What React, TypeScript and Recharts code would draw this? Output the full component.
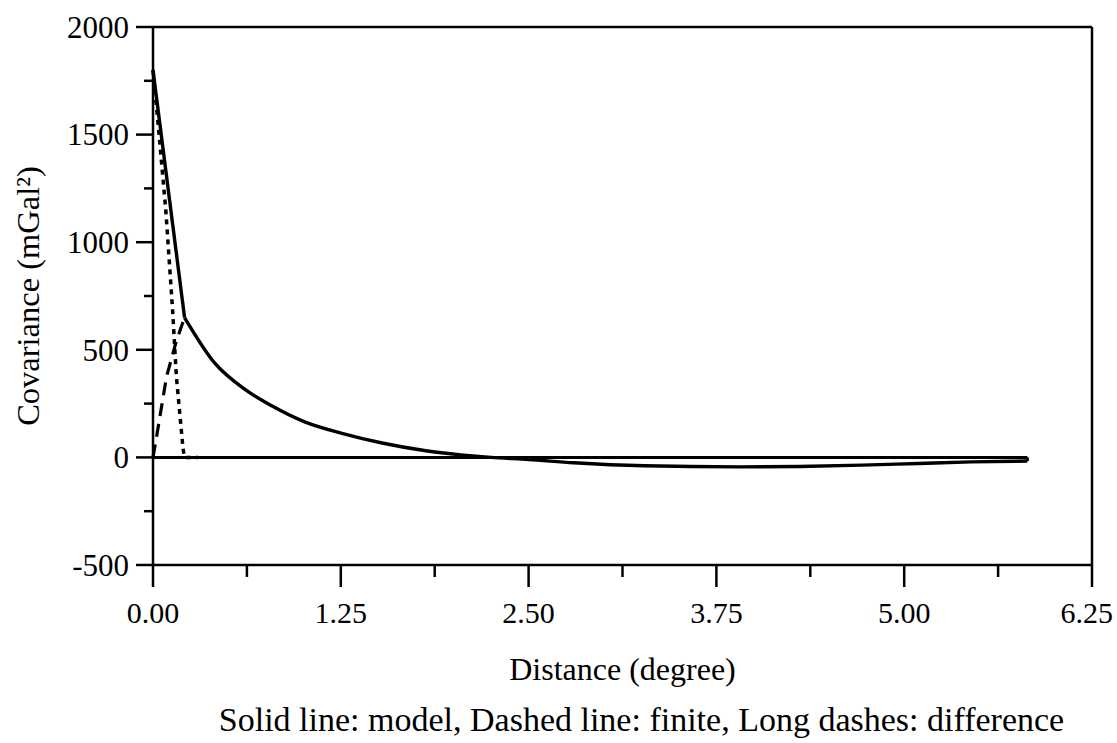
import { LineChart, Line, XAxis, YAxis, ReferenceLine, Label } from "recharts";

// distance in degrees, covariance in mGal^2
// model: straight drop near the origin, then a smooth tail
const MODEL_HEAD_X = [0, 0.21];
const MODEL_HEAD_Y = [1800, 650];
const MODEL_TAIL_X = [0.21, 0.41, 0.612, 0.79, 1.014, 1.258, 1.525, 1.816, 2.05, 2.25, 2.5, 2.8, 3.27, 3.9, 4.3, 4.72, 5.1, 5.45, 5.82];
const MODEL_TAIL_Y = [650, 439, 316, 240, 164, 112, 67, 31, 12, 0, -10, -25, -39, -44, -42, -36, -28, -21, -17];

const FINITE_X = [0, 0.03, 0.085, 0.13, 0.155, 0.2, 0.21, 0.3];
const FINITE_Y = [1800, 1580, 1150, 690, 380, 40, 0, 0];

const DIFF_X = [0, 0.02, 0.09, 0.155, 0.21];
const DIFF_Y = [0, 80, 375, 540, 650];

const X_TICKS = [0, 0.625, 1.25, 1.875, 2.5, 3.125, 3.75, 4.375, 5, 5.625, 6.25];
const Y_TICKS = [-500, -250, 0, 250, 500, 750, 1000, 1250, 1500, 1750, 2000];

const FONT = '"Liberation Serif", "Times New Roman", serif';

const pairs = (xs: number[], ys: number[]) => xs.map((x, i) => ({ x, y: ys[i] }));

const headData = pairs(MODEL_HEAD_X, MODEL_HEAD_Y);
const tailData = pairs(MODEL_TAIL_X, MODEL_TAIL_Y);
const finiteData = pairs(FINITE_X, FINITE_Y);
const diffData = pairs(DIFF_X, DIFF_Y);

const END_X = MODEL_TAIL_X[MODEL_TAIL_X.length - 1];
const END_Y = MODEL_TAIL_Y[MODEL_TAIL_Y.length - 1];
const X_MAX = X_TICKS[X_TICKS.length - 1];

const isMajor = (v: number, step: number) => Math.abs(v / step - Math.round(v / step)) < 1e-6;

function XTick(props: any) {
  const { x, y, payload } = props;
  const major = isMajor(payload.value, 1.25);
  const last = payload.value === X_MAX;
  return (
    <g>
      <line x1={x} x2={x} y1={y} y2={y + (major ? 22 : 12)} stroke="#000" strokeWidth={2.5} />
      {major && (
        <text
          x={last ? x + 21 : x}
          y={y + 58}
          textAnchor={last ? "end" : "middle"}
          fontSize={30}
          fontFamily={FONT}
          fill="#000"
        >
          {payload.value.toFixed(2)}
        </text>
      )}
    </g>
  );
}

function YTick(props: any) {
  const { x, y, payload } = props;
  const major = isMajor(payload.value, 500);
  return (
    <g>
      <line x1={x} x2={x - (major ? 17 : 9)} y1={y} y2={y} stroke="#000" strokeWidth={2.5} />
      {major && (
        <text x={x - 24} y={y} dy="0.35em" textAnchor="end" fontSize={31} fontFamily={FONT} fill="#000">
          {payload.value}
        </text>
      )}
    </g>
  );
}

export default function App() {
  return (
    <div style={{ position: "absolute", left: 0, top: 0, width: 1117, height: 743, background: "#fff" }}>
      <LineChart width={1117} height={743} margin={{ top: 27, right: 25, bottom: 118, left: 73 }}>
        <XAxis
          dataKey="x"
          type="number"
          domain={[0, X_MAX]}
          ticks={X_TICKS}
          tick={<XTick />}
          tickLine={false}
          tickSize={0}
          tickMargin={0}
          height={60}
          axisLine={{ stroke: "#000", strokeWidth: 2.5 }}
          interval={0}
        >
          <Label
            content={({ viewBox }: any) => (
              <text
                x={viewBox.x + viewBox.width / 2}
                y={680}
                textAnchor="middle"
                fontSize={32}
                fontFamily={FONT}
                fill="#000"
              >
                Distance (degree)
              </text>
            )}
          />
        </XAxis>
        <YAxis
          type="number"
          domain={[-500, 2000]}
          ticks={Y_TICKS}
          tick={<YTick />}
          tickLine={false}
          tickSize={0}
          tickMargin={0}
          width={80}
          axisLine={{ stroke: "#000", strokeWidth: 2.5 }}
          interval={0}
        >
          <Label
            content={({ viewBox }: any) => {
              const cy = viewBox.y + viewBox.height / 2;
              return (
                <text
                  x={28}
                  y={cy}
                  transform={`rotate(-90 28 ${cy})`}
                  textAnchor="middle"
                  dominantBaseline="central"
                  fontSize={32.5}
                  fontFamily={FONT}
                  fill="#000"
                >
                  Covariance (mGal²)
                </text>
              );
            }}
          />
        </YAxis>
        <ReferenceLine y={2000} stroke="#000" strokeWidth={2.5} />
        <ReferenceLine x={X_MAX} stroke="#000" strokeWidth={2.5} />
        <ReferenceLine
          segment={[{ x: 0, y: 0 }, { x: END_X, y: 0 }]}
          stroke="#000"
          strokeWidth={3}
        />
        <ReferenceLine
          segment={[{ x: END_X, y: 0 }, { x: END_X, y: END_Y }]}
          stroke="#000"
          strokeWidth={3}
        />
        <Line
          data={finiteData}
          dataKey="y"
          type="linear"
          stroke="#000"
          strokeWidth={3.5}
          strokeDasharray="5 5"
          dot={false}
          isAnimationActive={false}
        />
        <Line
          data={diffData}
          dataKey="y"
          type="linear"
          stroke="#000"
          strokeWidth={3.2}
          strokeDasharray="13 8"
          dot={false}
          isAnimationActive={false}
        />
        <Line
          data={headData}
          dataKey="y"
          type="linear"
          stroke="#000"
          strokeWidth={3.4}
          dot={false}
          isAnimationActive={false}
        />
        <Line
          data={tailData}
          dataKey="y"
          type="monotone"
          stroke="#000"
          strokeWidth={3.4}
          dot={false}
          isAnimationActive={false}
        />
      </LineChart>
      <div
        style={{
          position: "absolute",
          left: 83,
          top: 700,
          width: 1117,
          textAlign: "center",
          fontFamily: FONT,
          fontSize: 34,
          lineHeight: "40px",
          color: "#000",
          whiteSpace: "nowrap",
        }}
      >
        Solid line: model, Dashed line: finite, Long dashes: difference
      </div>
    </div>
  );
}
